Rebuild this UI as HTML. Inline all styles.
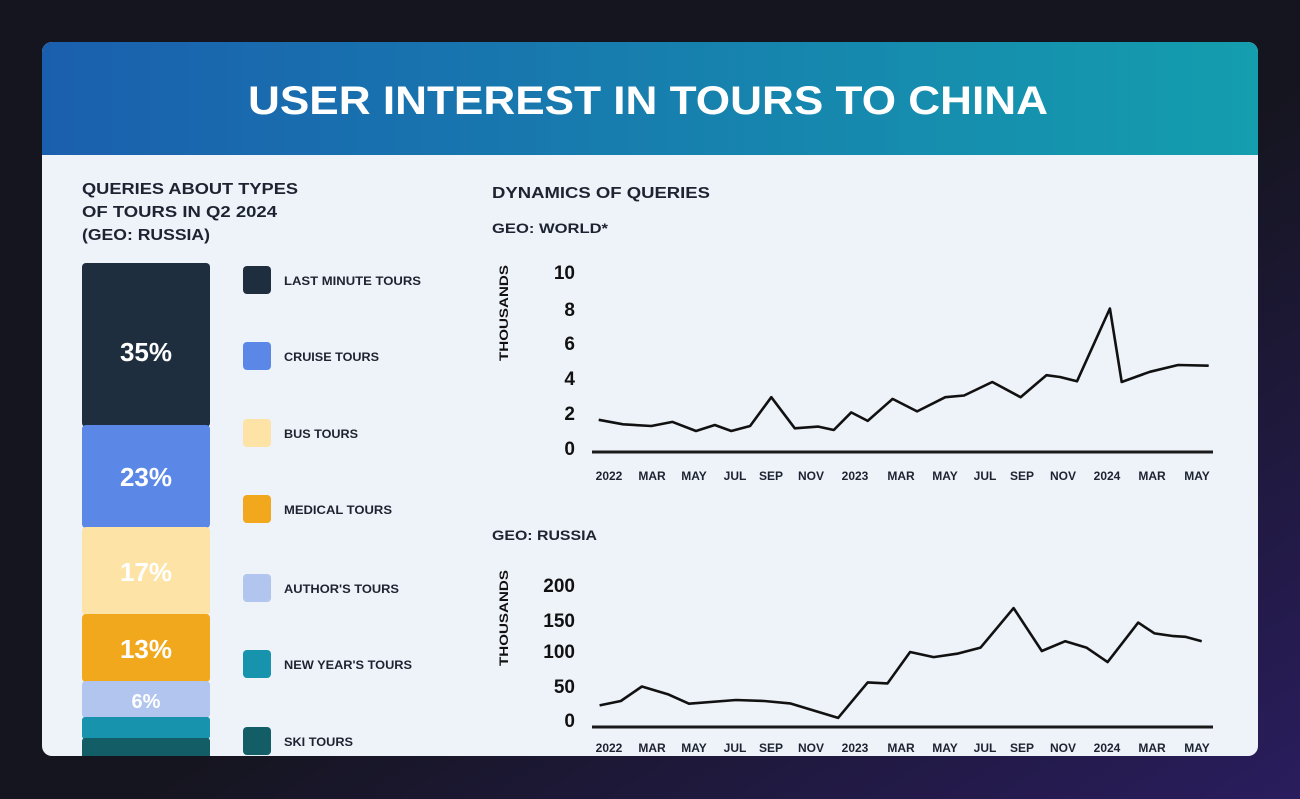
<!DOCTYPE html>
<html><head><meta charset="utf-8"><style>
html,body{margin:0;padding:0;background:#15151f;}
svg{display:block;font-family:"Liberation Sans",sans-serif;font-weight:bold;}
</style></head><body>
<svg width="1300" height="799" viewBox="0 0 1300 799" xmlns="http://www.w3.org/2000/svg">
<defs>
<linearGradient id="bg" x1="0" y1="0" x2="1" y2="1"><stop offset="0.55" stop-color="#15151f"/><stop offset="1" stop-color="#2a1d5e"/></linearGradient>
<linearGradient id="hd" x1="0" y1="0" x2="1" y2="0"><stop offset="0" stop-color="#1a5fae"/><stop offset="1" stop-color="#149eae"/></linearGradient>
<clipPath id="card"><rect x="42" y="42" width="1216" height="714" rx="10"/></clipPath>
</defs>
<rect width="1300" height="799" fill="url(#bg)"/>
<g clip-path="url(#card)">
<rect x="42" y="42" width="1216" height="714" fill="#eef2f9"/>
<rect x="42" y="42" width="1216" height="113" fill="url(#hd)"/>
<!-- stacked bar -->
<rect x="82" y="263" width="128" height="164" rx="4" fill="#1f2e3f"/>
<rect x="82" y="425" width="128" height="103" rx="4" fill="#5b87e6"/>
<rect x="82" y="527" width="128" height="88" rx="4" fill="#fde3a6"/>
<rect x="82" y="614" width="128" height="68" rx="4" fill="#f1a81c"/>
<rect x="82" y="681" width="128" height="37" rx="4" fill="#b2c5ef"/>
<rect x="82" y="717" width="128" height="22" rx="3" fill="#1793ad"/>
<rect x="82" y="738" width="128" height="30" rx="3" fill="#135e66"/>
</g>
<text x="648" y="114" fill="#fff" font-size="40" text-anchor="middle" textLength="800" lengthAdjust="spacingAndGlyphs">USER INTEREST IN TOURS TO CHINA</text>
<g fill="#1d2330" font-size="16">
<text x="82" y="194" textLength="216" lengthAdjust="spacingAndGlyphs">QUERIES ABOUT TYPES</text>
<text x="82" y="217" textLength="195" lengthAdjust="spacingAndGlyphs">OF TOURS IN Q2 2024</text>
<text x="82" y="240" textLength="128" lengthAdjust="spacingAndGlyphs">(GEO: RUSSIA)</text>
<text x="492" y="198" textLength="218" lengthAdjust="spacingAndGlyphs">DYNAMICS OF QUERIES</text>
<text x="492" y="233" font-size="14" textLength="116" lengthAdjust="spacingAndGlyphs">GEO: WORLD*</text>
<text x="492" y="540" font-size="14" textLength="105" lengthAdjust="spacingAndGlyphs">GEO: RUSSIA</text>
</g>
<g fill="#fff" font-size="26" text-anchor="middle">
<text x="146" y="361">35%</text>
<text x="146" y="486">23%</text>
<text x="146" y="581">17%</text>
<text x="146" y="658">13%</text>
<text x="146" y="708" font-size="20">6%</text>
</g>
<!-- legend -->
<g>
<rect x="243" y="266" width="28" height="28" rx="4" fill="#1f2e3f"/>
<rect x="243" y="342" width="28" height="28" rx="4" fill="#5b87e6"/>
<rect x="243" y="419" width="28" height="28" rx="4" fill="#fde3a6"/>
<rect x="243" y="495" width="28" height="28" rx="4" fill="#f1a81c"/>
<rect x="243" y="574" width="28" height="28" rx="4" fill="#b2c5ef"/>
<rect x="243" y="650" width="28" height="28" rx="4" fill="#1793ad"/>
<rect x="243" y="727" width="28" height="28" rx="4" fill="#135e66"/>
</g>
<g fill="#1d2330" font-size="12">
<text x="284" y="285" textLength="137" lengthAdjust="spacingAndGlyphs">LAST MINUTE TOURS</text>
<text x="284" y="361" textLength="95" lengthAdjust="spacingAndGlyphs">CRUISE TOURS</text>
<text x="284" y="438" textLength="74" lengthAdjust="spacingAndGlyphs">BUS TOURS</text>
<text x="284" y="514" textLength="108" lengthAdjust="spacingAndGlyphs">MEDICAL TOURS</text>
<text x="284" y="593" textLength="115" lengthAdjust="spacingAndGlyphs">AUTHOR'S TOURS</text>
<text x="284" y="669" textLength="128" lengthAdjust="spacingAndGlyphs">NEW YEAR'S TOURS</text>
<text x="284" y="746" textLength="69" lengthAdjust="spacingAndGlyphs">SKI TOURS</text>
</g>
<!-- chart 1 -->
<g fill="#111" font-size="19" text-anchor="end">
<text x="575" y="279">10</text><text x="575" y="316">8</text><text x="575" y="350">6</text>
<text x="575" y="385">4</text><text x="575" y="420">2</text><text x="575" y="455">0</text>
<text x="575" y="592">200</text><text x="575" y="627">150</text><text x="575" y="658">100</text>
<text x="575" y="693">50</text><text x="575" y="727">0</text>
</g>
<text transform="translate(508,313) rotate(-90)" fill="#111" font-size="12" text-anchor="middle" textLength="96" lengthAdjust="spacingAndGlyphs">THOUSANDS</text>
<text transform="translate(508,618) rotate(-90)" fill="#111" font-size="12" text-anchor="middle" textLength="96" lengthAdjust="spacingAndGlyphs">THOUSANDS</text>
<line x1="592" y1="452" x2="1213" y2="452" stroke="#1a1a1a" stroke-width="3"/>
<line x1="592" y1="727" x2="1213" y2="727" stroke="#1a1a1a" stroke-width="3"/>
<g fill="#1d2330" font-size="12" text-anchor="middle">
<g transform="translate(0,480)">
<text x="609">2022</text><text x="652">MAR</text><text x="694">MAY</text><text x="735">JUL</text><text x="771">SEP</text><text x="811">NOV</text><text x="855">2023</text><text x="901">MAR</text><text x="945">MAY</text><text x="985">JUL</text><text x="1022">SEP</text><text x="1063">NOV</text><text x="1107">2024</text><text x="1152">MAR</text><text x="1197">MAY</text>
</g>
<g transform="translate(0,752)">
<text x="609">2022</text><text x="652">MAR</text><text x="694">MAY</text><text x="735">JUL</text><text x="771">SEP</text><text x="811">NOV</text><text x="855">2023</text><text x="901">MAR</text><text x="945">MAY</text><text x="985">JUL</text><text x="1022">SEP</text><text x="1063">NOV</text><text x="1107">2024</text><text x="1152">MAR</text><text x="1197">MAY</text>
</g>
</g>
<polyline fill="none" stroke="#111" stroke-width="2.6" stroke-linejoin="round" points="598.7,419.8 623.1,424.3 651.3,426 672.5,421.9 696,431 714.8,425 731.3,431 750.1,426 771.3,397.2 794.8,428.3 818.3,426.6 833.8,430 851.2,412.4 867.7,420.9 892.6,398.9 917.1,411.4 945.3,397.2 964.1,395.5 992.3,382 1020.6,397.2 1046.4,375.2 1060,377 1077,381.3 1109.9,308.5 1121.7,382 1149.9,371.8 1178.1,365 1208.7,365.7"/>
<polyline fill="none" stroke="#111" stroke-width="2.6" stroke-linejoin="round" points="599.6,705.4 620.8,701 641.9,686.5 667.8,694.2 689,703.7 736,700 764.2,701 790.1,703.4 838.1,717.9 867.7,682.4 887.5,683.4 910.1,652 933.6,657.1 957.1,653.7 980.6,647.6 1013.6,608.1 1041.8,651 1065.3,641.2 1086.4,647.6 1107.6,662.1 1138.2,622.6 1154.6,633.4 1173.5,636.1 1185.2,636.8 1201.7,641.2"/>
</svg>
</body></html>
